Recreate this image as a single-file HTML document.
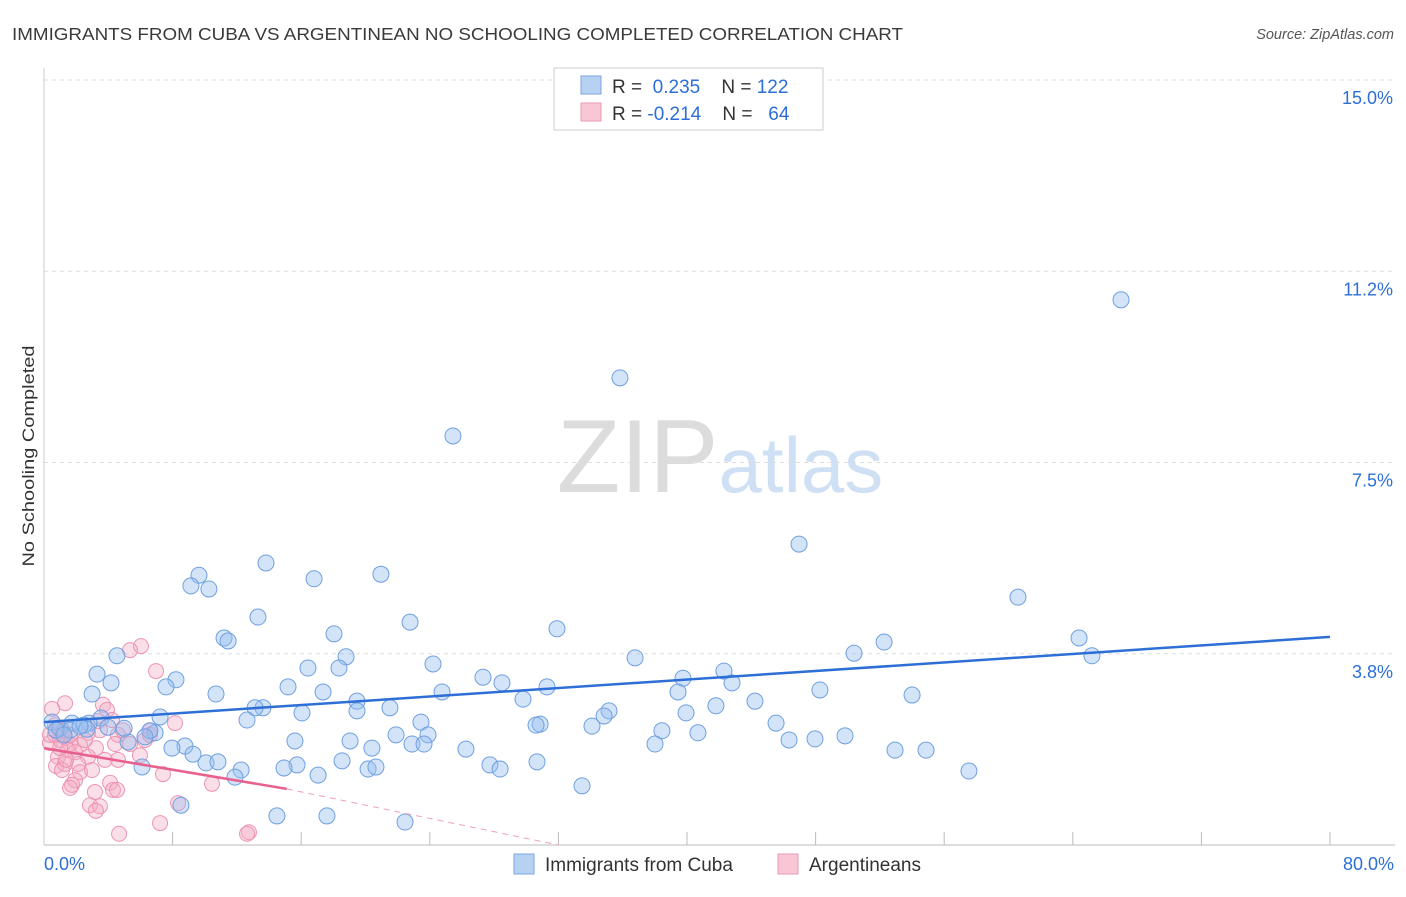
<!DOCTYPE html>
<html><head><meta charset="utf-8"><style>
body{margin:0;background:#fff;font-family:"Liberation Sans",sans-serif;}
svg text{font-family:"Liberation Sans",sans-serif;}
</style></head><body>
<svg id="chart" width="1406" height="892" xmlns="http://www.w3.org/2000/svg">
<text x="12" y="40" font-size="17.5" fill="#3a3a3a" textLength="891" lengthAdjust="spacingAndGlyphs">IMMIGRANTS FROM CUBA VS ARGENTINEAN NO SCHOOLING COMPLETED CORRELATION CHART</text>
<text x="1394" y="39" font-size="14.5" fill="#555" text-anchor="end" font-style="italic">Source: ZipAtlas.com</text>
<text transform="translate(34,456) rotate(-90)" font-size="17" fill="#333" text-anchor="middle" textLength="221" lengthAdjust="spacingAndGlyphs">No Schooling Completed</text>
<text x="720" y="492" font-size="104" text-anchor="middle" font-family="Liberation Serif"><tspan fill="#dcdcdc">ZIP</tspan><tspan fill="#cfe0f4" font-family="Liberation Sans" font-size="78">atlas</tspan></text>
<g id="grid"></g><g id="axes"></g><g id="pink"></g><g id="blue"></g><g id="lines"></g>
<g>
<rect x="554" y="68" width="269" height="62" fill="#fff" stroke="#ccc"/>
<rect x="581" y="76" width="20" height="18" fill="#b7d1f3" stroke="#7aa5e0"/>
<rect x="581" y="103" width="20" height="18" fill="#f8c6d4" stroke="#eb9ab4"/>
<text x="612" y="93" font-size="19" fill="#333">R = <tspan fill="#2d6fd6">&#160;0.235</tspan><tspan fill="#333">&#160;&#160;&#160;&#160;N = </tspan><tspan fill="#2d6fd6">122</tspan></text>
<text x="612" y="120" font-size="19" fill="#333">R = <tspan fill="#2d6fd6">-0.214</tspan><tspan fill="#333">&#160;&#160;&#160;&#160;N = </tspan><tspan fill="#2d6fd6">&#160;&#160;64</tspan></text>
</g>
<g>
<rect x="514" y="854" width="20" height="20" fill="#b7d1f3" stroke="#7aa5e0"/>
<text x="545" y="871" font-size="19" fill="#333">Immigrants from Cuba</text>
<rect x="778" y="854" width="20" height="20" fill="#f8c6d4" stroke="#eb9ab4"/>
<text x="809" y="871" font-size="19" fill="#333">Argentineans</text>
</g>
</svg>
<script>
const yTicks=[3.75,7.5,11.25,15];
const yTickLabels=["3.8%","7.5%","11.2%","15.0%"];
const xTickVals=[8,16,24,32,40,48,56,64,72,80];
const bluePx=[[1121,300],[620,378],[453,436],[799,544],[266,563],[199,575],[314,579],[381,574],[191,586],[209,589],[1018,597],[258,617],[410,622],[557,629],[334,634],[224,638],[228,641],[1079,638],[884,642],[854,653],[1092,656],[346,657],[117,656],[635,658],[433,664],[308,668],[339,668],[97,674],[176,680],[483,677],[683,678],[502,683],[724,671],[111,683],[166,687],[288,687],[547,687],[732,683],[820,690],[678,692],[442,692],[92,694],[216,694],[323,692],[523,699],[912,695],[357,701],[755,701],[263,708],[255,708],[390,708],[716,706],[609,711],[357,711],[302,713],[686,713],[160,717],[247,720],[101,718],[52,722],[421,722],[604,716],[592,726],[540,724],[536,725],[776,723],[60,728],[89,723],[72,723],[84,725],[70,730],[662,731],[155,733],[150,731],[396,735],[698,733],[428,735],[87,729],[145,737],[128,742],[295,741],[350,741],[815,739],[845,736],[789,740],[655,744],[185,746],[172,748],[372,748],[466,749],[412,744],[424,744],[895,750],[926,750],[193,754],[206,763],[218,762],[342,761],[537,762],[490,765],[500,769],[297,765],[284,768],[368,769],[376,767],[969,771],[142,767],[241,770],[235,777],[318,775],[582,786],[181,805],[277,816],[327,816],[405,822],[56,730],[64,735],[80,726],[108,727],[124,728]];
const pinkPx=[[141,646],[130,650],[156,671],[65,703],[103,705],[107,710],[52,709],[175,723],[98,721],[150,731],[118,735],[65,738],[55,735],[50,743],[60,740],[70,744],[80,745],[96,748],[115,744],[130,744],[68,750],[75,752],[88,757],[58,757],[118,760],[105,760],[56,766],[65,764],[78,764],[62,770],[80,772],[163,774],[75,780],[72,785],[110,783],[113,790],[70,788],[212,784],[117,790],[95,792],[178,803],[90,805],[100,806],[96,811],[160,823],[119,834],[249,832],[247,834],[55,725],[63,731],[50,735],[88,733],[60,748],[112,720],[145,740],[123,730],[85,740],[70,735],[58,728],[66,760],[150,735],[100,730],[140,755],[92,770]];
const cubaX=bluePx.map(p=>+((p[0]-44)/16.075).toFixed(2));
const cubaY=bluePx.map(p=>+((845-p[1])/51.0).toFixed(2));
const argX=pinkPx.map(p=>+((p[0]-44)/16.075).toFixed(2));
const argY=pinkPx.map(p=>+((845-p[1])/51.0).toFixed(2));
const blueTrend=[2.41,4.08];
const pinkTrend=[1.90,1.10,0];
const X=v=>44+v*16.075, Y=v=>845-v*51.0;
const NS="http://www.w3.org/2000/svg";
function mk(t,a,p){const e=document.createElementNS(NS,t);for(const k in a)e.setAttribute(k,a[k]);p.appendChild(e);return e;}
const grid=document.getElementById('grid'),axes=document.getElementById('axes');
yTicks.forEach((v,i)=>{
 const l=mk('line',{x1:44,x2:1395,y1:Y(v),y2:Y(v),stroke:'#ddd','stroke-dasharray':'4,4'},grid);
 
 
 const t=mk('text',{x:1393,y:Y(v)+24,'font-size':18,fill:'#2d6fd6','text-anchor':'end'},axes);
 t.textContent=yTickLabels[i];
 
 
});
const ax=mk('line',{x1:44,x2:1395,y1:845,y2:845,stroke:'#bbb'},axes);


const yax=mk('line',{x1:44,x2:44,y1:68,y2:845,stroke:'#ccc'},axes);


xTickVals.forEach(v=>{
 const l=mk('line',{x1:X(v),x2:X(v),y1:832,y2:845,stroke:'#bbb'},axes);
 
 
});
const t0=mk('text',{x:44,y:870,'font-size':18,fill:'#2d6fd6'},axes);t0.textContent='0.0%';


const t1=mk('text',{x:1394,y:870,'font-size':18,fill:'#2d6fd6','text-anchor':'end'},axes);t1.textContent='80.0%';


const pg=document.getElementById('pink');
argX.forEach((x,i)=>{const c=mk('circle',{cx:X(x),cy:Y(argY[i]),r:7.5,fill:'rgba(245,170,195,0.38)',stroke:'#ec94b2','stroke-width':1},pg);
 
 });
const bg=document.getElementById('blue');
cubaX.forEach((x,i)=>{const c=mk('circle',{cx:X(x),cy:Y(cubaY[i]),r:8,fill:'rgba(150,190,240,0.42)',stroke:'#6fa0e0','stroke-width':1},bg);
 
 });
const lg=document.getElementById('lines');
const bl=mk('line',{x1:X(0),y1:Y(blueTrend[0]),x2:X(80),y2:Y(blueTrend[1]),stroke:'#2d6fd6','stroke-width':2.5},lg);


const pl=mk('line',{x1:X(0),y1:Y(pinkTrend[0]),x2:X(15.1),y2:Y(pinkTrend[1]),stroke:'#e8608c','stroke-width':2.5},lg);


const pd=mk('line',{x1:X(15.1),y1:Y(pinkTrend[1]),x2:X(32),y2:Y(pinkTrend[2]),stroke:'#f0a0b8','stroke-width':1,'stroke-dasharray':'6,5'},lg);


</script>
</body></html>
